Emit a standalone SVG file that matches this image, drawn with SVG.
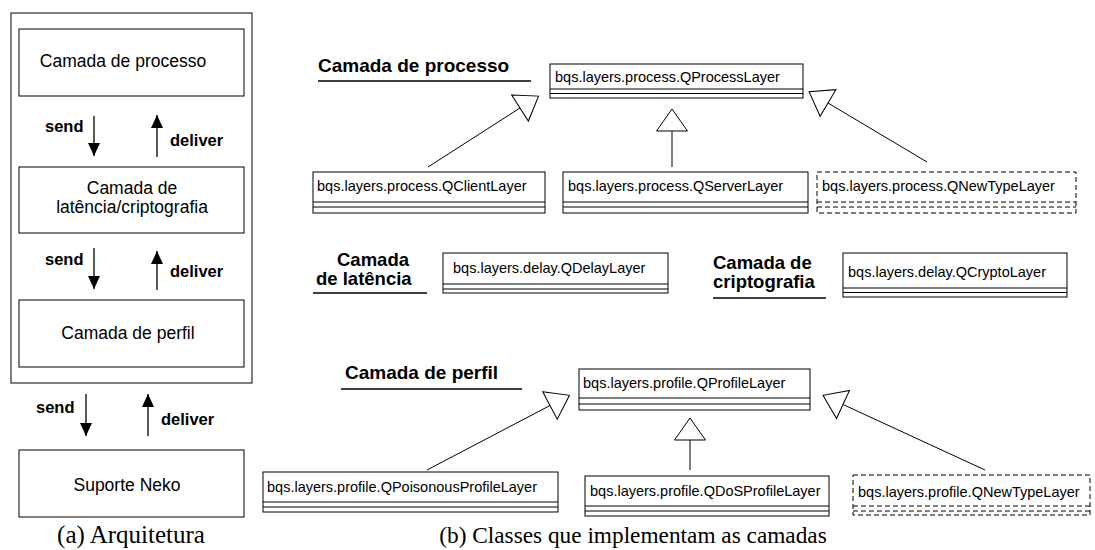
<svg xmlns="http://www.w3.org/2000/svg" width="1095" height="550" viewBox="0 0 1095 550">
<style>
.bx{fill:#fff;stroke:#000;stroke-width:1}
.dbx{fill:#fff;stroke:#000;stroke-width:1;stroke-dasharray:5,3}
.sep{stroke:#000;stroke-width:1}
.dsep{stroke:#000;stroke-width:1;stroke-dasharray:5,3}
.cls{font-family:"Liberation Sans",Arial,sans-serif;font-size:14.5px;fill:#000}
.lay{font-family:"Liberation Sans",Arial,sans-serif;font-size:17.5px;fill:#000;text-anchor:middle}
.bold{font-family:"Liberation Sans",Arial,sans-serif;font-size:16.5px;font-weight:bold;fill:#000}
.ttl{font-family:"Liberation Sans",Arial,sans-serif;font-size:19px;font-weight:bold;fill:#000}
.ttl2{font-family:"Liberation Sans",Arial,sans-serif;font-size:18.5px;font-weight:bold;fill:#000}
.cap{font-family:"Liberation Serif","Times New Roman",serif;fill:#000;text-anchor:middle}
.ul{stroke:#000;stroke-width:1.5}
.gl{stroke:#000;stroke-width:1;fill:none}
.al{stroke:#000;stroke-width:1.3;fill:none}
</style>
<defs>
<marker id="gen" markerUnits="userSpaceOnUse" markerWidth="24" markerHeight="33" refX="0" refY="15.5" orient="auto" overflow="visible">
<path d="M0,0 L22,15.5 L0,31 Z" fill="#fff" stroke="#000" stroke-width="1"/>
</marker>
<marker id="arr" markerUnits="userSpaceOnUse" markerWidth="13" markerHeight="12" refX="13" refY="6" orient="auto" overflow="visible">
<path d="M0,0 L13,6 L0,12 Z" fill="#000"/>
</marker>
</defs>

<!-- (a) Architecture -->
<g id="arch-frame"><rect x="11" y="13" width="241" height="370" class="bx"/></g>
<g id="layer-processo"><rect x="19" y="29" width="225" height="67" class="bx"/><text x="123" y="67" class="lay">Camada de processo</text></g>
<g id="layer-latencia"><rect x="19" y="167" width="225" height="66" class="bx"/><text x="132" y="194" class="lay">Camada de</text><text x="132" y="213" class="lay">latência/criptografia</text></g>
<g id="layer-perfil"><rect x="19" y="300" width="225" height="67" class="bx"/><text x="128" y="339" class="lay">Camada de perfil</text></g>
<g id="suporte-neko"><rect x="19" y="450" width="225" height="67" class="bx"/><text x="127" y="491" class="lay">Suporte Neko</text></g>

<g id="arch-connectors">
<line x1="94" y1="116" x2="94" y2="156" class="al" marker-end="url(#arr)"/>
<line x1="157" y1="157" x2="157" y2="115" class="al" marker-end="url(#arr)"/>
<line x1="94" y1="248" x2="94" y2="289" class="al" marker-end="url(#arr)"/>
<line x1="157" y1="290" x2="157" y2="251" class="al" marker-end="url(#arr)"/>
<line x1="86" y1="394" x2="86" y2="436" class="al" marker-end="url(#arr)"/>
<line x1="148" y1="436" x2="148" y2="394" class="al" marker-end="url(#arr)"/>
<text x="45" y="132" class="bold">send</text>
<text x="170" y="146" class="bold">deliver</text>
<text x="45" y="265" class="bold">send</text>
<text x="170" y="277" class="bold">deliver</text>
<text x="36" y="413" class="bold">send</text>
<text x="161" y="425" class="bold">deliver</text>
</g>
<text x="131" y="543" class="cap" font-size="25">(a) Arquitetura</text>

<!-- (b) Classes -->
<g id="title-processo"><text x="318" y="72" class="ttl">Camada de processo</text><line x1="318" y1="81" x2="531" y2="81" class="ul"/></g>
<g id="QProcessLayer"><rect x="550" y="64" width="253" height="34" class="bx"/><line x1="550" y1="89" x2="803" y2="89" class="sep"/><line x1="550" y1="93.5" x2="803" y2="93.5" class="sep"/><text x="555" y="82" class="cls">bqs.layers.process.QProcessLayer</text></g>
<g id="QClientLayer"><rect x="313" y="172" width="232" height="41" class="bx"/><line x1="313" y1="202" x2="545" y2="202" class="sep"/><line x1="313" y1="207" x2="545" y2="207" class="sep"/><text x="317" y="191" class="cls">bqs.layers.process.QClientLayer</text></g>
<g id="QServerLayer"><rect x="563" y="172" width="245" height="41" class="bx"/><line x1="563" y1="202" x2="808" y2="202" class="sep"/><line x1="563" y1="207" x2="808" y2="207" class="sep"/><text x="568" y="191" class="cls">bqs.layers.process.QServerLayer</text></g>
<g id="QNewTypeLayer-process"><rect x="817" y="172" width="259" height="41" class="dbx"/><line x1="817" y1="202" x2="1076" y2="202" class="dsep"/><line x1="817" y1="207" x2="1076" y2="207" class="dsep"/><text x="822" y="191" class="cls">bqs.layers.process.QNewTypeLayer</text></g>

<g id="title-latencia"><text x="337" y="266" class="ttl2">Camada</text><text x="316" y="285" class="ttl2">de latência</text><line x1="313" y1="293" x2="427" y2="293" class="ul"/></g>
<g id="QDelayLayer"><rect x="443" y="253" width="225" height="40" class="bx"/><line x1="443" y1="284" x2="668" y2="284" class="sep"/><line x1="443" y1="289" x2="668" y2="289" class="sep"/><text x="453" y="273" class="cls">bqs.layers.delay.QDelayLayer</text></g>
<g id="title-cripto"><text x="713" y="269" class="ttl2">Camada de</text><text x="713" y="288" class="ttl2">criptografia</text><line x1="713" y1="298" x2="826" y2="298" class="ul"/></g>
<g id="QCryptoLayer"><rect x="843" y="253" width="224" height="44" class="bx"/><line x1="843" y1="288" x2="1067" y2="288" class="sep"/><line x1="843" y1="292.5" x2="1067" y2="292.5" class="sep"/><text x="848" y="277" class="cls">bqs.layers.delay.QCryptoLayer</text></g>

<g id="title-perfil"><text x="345" y="379" class="ttl">Camada de perfil</text><line x1="341" y1="389" x2="522" y2="389" class="ul"/></g>
<g id="QProfileLayer"><rect x="579" y="369" width="231" height="41" class="bx"/><line x1="579" y1="398" x2="810" y2="398" class="sep"/><line x1="579" y1="404" x2="810" y2="404" class="sep"/><text x="583" y="388" class="cls">bqs.layers.profile.QProfileLayer</text></g>
<g id="QPoisonousProfileLayer"><rect x="263" y="472" width="295" height="40" class="bx"/><line x1="263" y1="502" x2="558" y2="502" class="sep"/><line x1="263" y1="507" x2="558" y2="507" class="sep"/><text x="267" y="492" class="cls">bqs.layers.profile.QPoisonousProfileLayer</text></g>
<g id="QDoSProfileLayer"><rect x="585" y="476" width="244" height="40" class="bx"/><line x1="585" y1="506" x2="829" y2="506" class="sep"/><line x1="585" y1="511" x2="829" y2="511" class="sep"/><text x="590" y="496" class="cls">bqs.layers.profile.QDoSProfileLayer</text></g>
<g id="QNewTypeLayer-profile"><rect x="853" y="475" width="237" height="40" class="dbx"/><line x1="853" y1="506" x2="1090" y2="506" class="dsep"/><line x1="853" y1="511" x2="1090" y2="511" class="dsep"/><text x="858" y="497" class="cls">bqs.layers.profile.QNewTypeLayer</text></g>

<g id="connectors">
<line x1="428" y1="167" x2="520" y2="108" class="gl" marker-end="url(#gen)"/>
<line x1="672" y1="167" x2="672" y2="131" class="gl" marker-end="url(#gen)"/>
<line x1="927" y1="162" x2="828" y2="103" class="gl" marker-end="url(#gen)"/>
<line x1="427" y1="470" x2="550" y2="405.5" class="gl" marker-end="url(#gen)"/>
<line x1="690" y1="470" x2="690" y2="440" class="gl" marker-end="url(#gen)"/>
<line x1="985" y1="470" x2="843" y2="404.5" class="gl" marker-end="url(#gen)"/>
</g>
<text x="633" y="543" class="cap" font-size="23.3">(b) Classes que implementam as camadas</text>
</svg>
